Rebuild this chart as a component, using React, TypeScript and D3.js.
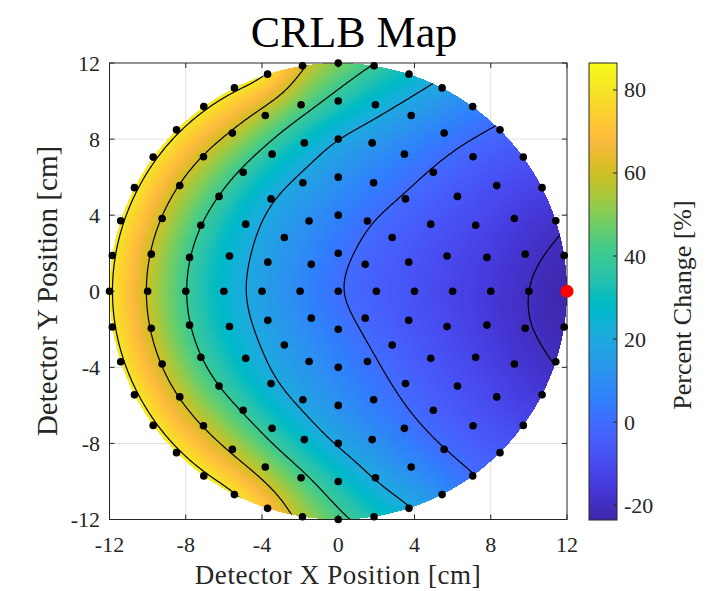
import React, { useMemo } from "react";
import * as d3 from "d3";

// ---------------- data ----------------
// Detector positions lie on concentric rings (cm); each ring's points are evenly spaced in angle,
// starting at +x and going counter-clockwise. Values are percent change.
const RING_RADII = [0, 2, 4, 6, 8, 10, 12];
const RING_0 = [0];
const RING_2 = [-4.1, -2.3, 2.0, 6.8, 8.0, 7.4, 3.4, -1.9];
const RING_4 = [-8.1, -6.8, -3.6, 0.4, 6.1, 11.0, 14.0, 15.4, 15.6, 15.8, 14.8, 11.9, 7.2, 1.5, -3.3, -6.7];
const RING_6 = [-12.2, -10.5, -6.5, -0.9, 5.2, 11.7, 16.7, 19.9, 23.2, 25.4, 25.7, 26.0, 24.7, 21.0, 16.6, 11.0, 4.0, -2.1, -6.9, -10.8];
const RING_8 = [-16.2, -14.7, -11.2, -6.5, -1.0, 5.8, 13.0, 18.8, 27.2, 33.7, 37.5, 39.5, 39.6, 39.7, 39.6, 39.7, 39.6, 39.5, 39.0, 34.5, 27.0, 17.9, 10.9, 2.7, -3.5, -8.0, -12.4, -15.4];
const RING_10 = [-20.2, -18.5, -14.8, -9.6, -3.5, 4.4, 14.2, 24.3, 35.7, 45.7, 53.9, 58.3, 58.7, 58.8, 58.8, 58.7, 58.6, 58.7, 58.8, 58.8, 58.8, 57.2, 52.1, 43.3, 31.8, 18.5, 9.3, -0.3, -6.2, -11.8, -16.6, -19.7];
const RING_12 = [-23.6, -21.6, -18.7, -13.0, -7.3, -1.6, 7.1, 16.8, 27.8, 39.2, 49.7, 60.0, 81.0, 82.0, 82.0, 82.0, 82.0, 82.0, 81.8, 81.6, 81.5, 81.6, 81.8, 82.0, 82.0, 82.0, 82.0, 81.5, 71.1, 54.4, 43.5, 32.1, 20.4, 10.1, -0.1, -5.5, -11.0, -16.5, -20.5, -22.1];
const RING_VALUES = [RING_0, RING_2, RING_4, RING_6, RING_8, RING_10, RING_12];

const REFERENCE_POINT = [12, 0];
const CONTOUR_LEVELS = [-20, 0, 20, 40, 60, 80];
const X_TICKS = [-12, -8, -4, 0, 4, 8, 12];
const Y_TICKS = [-12, -8, -4, 0, 4, 8, 12];
const COLORBAR_TICKS = [-20, 0, 20, 40, 60, 80];
const COLOR_LIMITS = [-23.6, 86.5];

const TITLE = "CRLB Map";
const X_LABEL = "Detector X Position [cm]";
const Y_LABEL = "Detector Y Position [cm]";
const C_LABEL = "Percent Change [%]";

// parula colormap (64 entries)
const PARULA = [
  [0.2422, 0.1504, 0.6603], [0.2504, 0.165, 0.7076], [0.2578, 0.1818, 0.7511], [0.2647, 0.1978, 0.7952],
  [0.2706, 0.2147, 0.8364], [0.2751, 0.2342, 0.871], [0.2783, 0.2559, 0.8991], [0.2803, 0.2782, 0.9221],
  [0.2813, 0.3006, 0.9414], [0.281, 0.3228, 0.9579], [0.2795, 0.3447, 0.9717], [0.276, 0.3667, 0.9829],
  [0.2699, 0.3892, 0.9906], [0.2602, 0.4123, 0.9952], [0.244, 0.4358, 0.9988], [0.2206, 0.4603, 0.9973],
  [0.1963, 0.4847, 0.9892], [0.1834, 0.5074, 0.9798], [0.1786, 0.5289, 0.9682], [0.1764, 0.5499, 0.952],
  [0.1687, 0.5703, 0.9359], [0.154, 0.5902, 0.9218], [0.146, 0.6091, 0.9079], [0.138, 0.6276, 0.8973],
  [0.1248, 0.6459, 0.8883], [0.1113, 0.6635, 0.8763], [0.0952, 0.6798, 0.8598], [0.0689, 0.6948, 0.8394],
  [0.0297, 0.7082, 0.8163], [0.0036, 0.7203, 0.7917], [0.0067, 0.7312, 0.766], [0.0433, 0.7411, 0.7394],
  [0.0964, 0.75, 0.712], [0.1408, 0.7584, 0.6842], [0.1717, 0.767, 0.6554], [0.1938, 0.7758, 0.6251],
  [0.2161, 0.7843, 0.5923], [0.247, 0.7918, 0.5567], [0.2906, 0.7973, 0.5188], [0.3406, 0.8008, 0.4789],
  [0.3909, 0.8029, 0.4354], [0.4456, 0.8024, 0.3909], [0.5044, 0.7993, 0.348], [0.5616, 0.7942, 0.3045],
  [0.6174, 0.7876, 0.2612], [0.672, 0.7793, 0.2227], [0.7242, 0.7698, 0.191], [0.7738, 0.7598, 0.1646],
  [0.8203, 0.7498, 0.1535], [0.8634, 0.7406, 0.1596], [0.9035, 0.733, 0.1774], [0.9393, 0.7288, 0.21],
  [0.9728, 0.7298, 0.2394], [0.9956, 0.7434, 0.2371], [0.997, 0.7659, 0.2199], [0.9952, 0.7893, 0.2028],
  [0.9892, 0.8136, 0.1885], [0.9786, 0.8386, 0.1766], [0.9676, 0.8639, 0.1643], [0.961, 0.889, 0.1537],
  [0.9597, 0.9135, 0.1423], [0.9628, 0.9373, 0.1265], [0.9691, 0.9606, 0.1064], [0.9769, 0.9839, 0.0805],
];

// ---------------- layout ----------------
const W = 716;
const H = 591;
const PLOT = { left: 109.5, right: 567, top: 63, bottom: 519.5 };
const CBAR = { left: 589, right: 617, top: 63, bottom: 520 };
const SERIF = "'Liberation Serif', 'DejaVu Serif', serif";
const AXIS_COLOR = "#262626";

function parulaRGB(t: number): [number, number, number] {
  const tt = Math.max(0, Math.min(1, t)) * (PARULA.length - 1);
  const i = Math.min(PARULA.length - 2, Math.floor(tt));
  const f = tt - i;
  const a = PARULA[i], b = PARULA[i + 1];
  return [
    Math.round(255 * (a[0] + (b[0] - a[0]) * f)),
    Math.round(255 * (a[1] + (b[1] - a[1]) * f)),
    Math.round(255 * (a[2] + (b[2] - a[2]) * f)),
  ];
}

function catmull(p0: number, p1: number, p2: number, p3: number, f: number) {
  const m1 = (p2 - p0) / 2, m2 = (p3 - p1) / 2;
  const f2 = f * f, f3 = f2 * f;
  return (2 * f3 - 3 * f2 + 1) * p1 + (f3 - 2 * f2 + f) * m1 + (-2 * f3 + 3 * f2) * p2 + (f3 - f2) * m2;
}

function ringValue(i: number, phiDeg: number) {
  const vals = RING_VALUES[i];
  const n = vals.length;
  if (n === 1) return vals[0];
  const step = 360 / n;
  const a = ((phiDeg % 360) + 360) % 360;
  const k = Math.floor(a / step);
  const f = a / step - k;
  return catmull(vals[(k - 1 + n) % n], vals[k % n], vals[(k + 1) % n], vals[(k + 2) % n], f);
}

// interpolation of the ring data: along each ring, then across rings; linear extension outside
function field(x: number, y: number): number {
  const last = RING_RADII.length - 1;
  const R = RING_RADII[last];
  const r = Math.hypot(x, y);
  if (r > R) {
    const s = R / r;
    const vEdge = field(x * s, y * s);
    const vIn = field(x * s * 0.98, y * s * 0.98);
    return vEdge + ((vEdge - vIn) / (R * 0.02)) * (r - R);
  }
  const phi = (Math.atan2(y, x) * 180) / Math.PI;
  const spacing = RING_RADII[1] - RING_RADII[0];
  const t = Math.min(r / spacing, last);
  let i = Math.floor(t);
  if (i >= last) i = last - 1;
  const f = t - i;
  const p1 = ringValue(i, phi);
  const p2 = ringValue(i + 1, phi);
  const p0 = i === 0 ? ringValue(1, phi + 180) : ringValue(i - 1, phi);
  const p3 = i + 2 <= last ? ringValue(i + 2, phi) : 2 * p2 - p1;
  return catmull(p0, p1, p2, p3, f);
}

function gaussianBlur(vals: Float64Array, N: number, sigmaCells: number) {
  const rad = Math.ceil(sigmaCells * 3);
  const ker: number[] = [];
  let sum = 0;
  for (let k = -rad; k <= rad; k++) { const w = Math.exp(-(k * k) / (2 * sigmaCells * sigmaCells)); ker.push(w); sum += w; }
  for (let k = 0; k < ker.length; k++) ker[k] /= sum;
  const tmp = new Float64Array(N * N);
  const out = new Float64Array(N * N);
  for (let j = 0; j < N; j++)
    for (let i = 0; i < N; i++) {
      let s = 0;
      for (let k = -rad; k <= rad; k++) { const ii = Math.max(0, Math.min(N - 1, i + k)); s += ker[k + rad] * vals[j * N + ii]; }
      tmp[j * N + i] = s;
    }
  for (let j = 0; j < N; j++)
    for (let i = 0; i < N; i++) {
      let s = 0;
      for (let k = -rad; k <= rad; k++) { const jj = Math.max(0, Math.min(N - 1, j + k)); s += ker[k + rad] * tmp[jj * N + i]; }
      out[j * N + i] = s;
    }
  return out;
}

export default function App() {
  const R = RING_RADII[RING_RADII.length - 1];
  const x = d3.scaleLinear().domain([-12, 12]).range([PLOT.left, PLOT.right]);
  const y = d3.scaleLinear().domain([-12, 12]).range([PLOT.bottom, PLOT.top]);
  const c = d3.scaleLinear().domain(COLOR_LIMITS).range([CBAR.bottom, CBAR.top]);

  const points = useMemo(() => {
    const pts: [number, number][] = [];
    RING_RADII.forEach((rad, i) => {
      const n = RING_VALUES[i].length;
      for (let k = 0; k < n; k++) {
        const a = (k * 2 * Math.PI) / n;
        pts.push([rad * Math.cos(a), rad * Math.sin(a)]);
      }
    });
    return pts;
  }, []);

  const computed = useMemo(() => {
    const N = 291, G0 = -14.5, GS = 0.1;
    const raw = new Float64Array(N * N);
    for (let j = 0; j < N; j++) {
      const Y = -G0 - j * GS;
      for (let i = 0; i < N; i++) raw[j * N + i] = field(G0 + i * GS, Y);
    }
    const vals = gaussianBlur(raw, N, 8);
    const sample = (X: number, Y: number) => {
      const gi = (X - G0) / GS, gj = (-G0 - Y) / GS;
      const i0 = Math.max(0, Math.min(N - 2, Math.floor(gi)));
      const j0 = Math.max(0, Math.min(N - 2, Math.floor(gj)));
      const fx = gi - i0, fy = gj - j0;
      const a = vals[j0 * N + i0], b = vals[j0 * N + i0 + 1];
      const cc = vals[(j0 + 1) * N + i0], d = vals[(j0 + 1) * N + i0 + 1];
      return (a * (1 - fx) + b * fx) * (1 - fy) + (cc * (1 - fx) + d * fx) * fy;
    };

    const x0 = Math.floor(PLOT.left);
    const y0 = Math.floor(PLOT.top);
    const w = Math.ceil(PLOT.right) - x0;
    const h = Math.ceil(PLOT.bottom) - y0;
    const canvas = document.createElement("canvas");
    canvas.width = w;
    canvas.height = h;
    const ctx = canvas.getContext("2d")!;
    const img = ctx.createImageData(w, h);
    for (let py = 0; py < h; py++) {
      const dy = y.invert(y0 + py + 0.5);
      for (let px = 0; px < w; px++) {
        const dx = x.invert(x0 + px + 0.5);
        const r = Math.hypot(dx, dy);
        const k = (py * w + px) * 4;
        if (r > R) { img.data[k + 3] = 0; continue; }
        const v = sample(dx, dy);
        const [rr, gg, bb] = parulaRGB((v - COLOR_LIMITS[0]) / (COLOR_LIMITS[1] - COLOR_LIMITS[0]));
        img.data[k] = rr; img.data[k + 1] = gg; img.data[k + 2] = bb; img.data[k + 3] = 255;
      }
    }
    ctx.putImageData(img, 0, 0);

    const cs = d3.contours().size([N, N]).thresholds(CONTOUR_LEVELS)(Array.from(vals));
    const proj = d3.geoTransform({
      point(px: number, py: number) {
        (this as any).stream.point(x(G0 + (px - 0.5) * GS), y(-G0 - (py - 0.5) * GS));
      },
    });
    const path = d3.geoPath(proj);
    return {
      heat: { href: canvas.toDataURL(), x0, y0, w, h },
      paths: cs.map((g) => path(g as any) || ""),
    };
  }, []);

  const stops = PARULA.map((p, i) => ({
    off: i / (PARULA.length - 1),
    col: `rgb(${Math.round(p[0] * 255)},${Math.round(p[1] * 255)},${Math.round(p[2] * 255)})`,
  }));

  const tickLen = 5;

  return (
    <svg width={W} height={H} style={{ position: "absolute", left: 0, top: 0, background: "#fff" }} fontFamily={SERIF}>
      <defs>
        <clipPath id="disk">
          <ellipse cx={x(0)} cy={y(0)} rx={x(R) - x(0)} ry={y(-R) - y(0)} />
        </clipPath>
        <linearGradient id="cbar" x1="0" y1="1" x2="0" y2="0">
          {stops.map((s, i) => (
            <stop key={i} offset={s.off} stopColor={s.col} />
          ))}
        </linearGradient>
      </defs>
      <rect x={0} y={0} width={W} height={H} fill="#fff" />

      {/* grid */}
      <g stroke="#dfdfdf" strokeWidth={1}>
        {X_TICKS.slice(1, -1).map((t) => (
          <line key={"gx" + t} x1={x(t)} x2={x(t)} y1={PLOT.top} y2={PLOT.bottom} />
        ))}
        {Y_TICKS.slice(1, -1).map((t) => (
          <line key={"gy" + t} x1={PLOT.left} x2={PLOT.right} y1={y(t)} y2={y(t)} />
        ))}
      </g>

      {/* heatmap */}
      <image href={computed.heat.href} x={computed.heat.x0} y={computed.heat.y0} width={computed.heat.w} height={computed.heat.h} />

      {/* contours */}
      <g clipPath="url(#disk)" fill="none" stroke="#000" strokeWidth={1.2} strokeLinejoin="round">
        {computed.paths.map((d, i) => (
          <path key={i} d={d} />
        ))}
      </g>

      {/* axes box and ticks */}
      <g stroke={AXIS_COLOR} strokeWidth={1} fill="none">
        <rect x={PLOT.left} y={PLOT.top} width={PLOT.right - PLOT.left} height={PLOT.bottom - PLOT.top} />
        {X_TICKS.map((t) => (
          <g key={"tx" + t}>
            <line x1={x(t)} x2={x(t)} y1={PLOT.bottom} y2={PLOT.bottom - tickLen} />
            <line x1={x(t)} x2={x(t)} y1={PLOT.top} y2={PLOT.top + tickLen} />
          </g>
        ))}
        {Y_TICKS.map((t) => (
          <g key={"ty" + t}>
            <line x1={PLOT.left} x2={PLOT.left + tickLen} y1={y(t)} y2={y(t)} />
            <line x1={PLOT.right} x2={PLOT.right - tickLen} y1={y(t)} y2={y(t)} />
          </g>
        ))}
      </g>

      {/* detector points */}
      <g fill="#000">
        {points.map((p, i) => (
          <circle key={i} cx={x(p[0])} cy={y(p[1])} r={3.8} />
        ))}
      </g>
      <circle cx={x(REFERENCE_POINT[0])} cy={y(REFERENCE_POINT[1])} r={6.5} fill="#ff0000" />

      {/* tick labels */}
      <g fill={AXIS_COLOR} fontSize={22}>
        {X_TICKS.map((t) => (
          <text key={"lx" + t} x={x(t)} y={552} textAnchor="middle">{String(t)}</text>
        ))}
        {Y_TICKS.map((t) => (
          <text key={"ly" + t} x={100} y={y(t) + 7.5} textAnchor="end">{String(t)}</text>
        ))}
      </g>

      {/* labels */}
      <text x={354} y={47} textAnchor="middle" fontSize={44} fill="#000">{TITLE}</text>
      <text x={338} y={584} textAnchor="middle" fontSize={27} letterSpacing={0.6} fill={AXIS_COLOR}>{X_LABEL}</text>
      <text transform={`translate(57,${291}) rotate(-90)`} textAnchor="middle" fontSize={29} fill={AXIS_COLOR}>{Y_LABEL}</text>

      {/* colorbar */}
      <rect x={CBAR.left} y={CBAR.top} width={CBAR.right - CBAR.left} height={CBAR.bottom - CBAR.top} fill="url(#cbar)" stroke={AXIS_COLOR} strokeWidth={1} />
      <g stroke={AXIS_COLOR} strokeWidth={1}>
        {COLORBAR_TICKS.map((t) => (
          <line key={"ct" + t} x1={CBAR.right} x2={CBAR.right - 4} y1={c(t)} y2={c(t)} />
        ))}
      </g>
      <g fill={AXIS_COLOR} fontSize={22}>
        {COLORBAR_TICKS.map((t) => (
          <text key={"cl" + t} x={624} y={c(t) + 7.5} textAnchor="start">{String(t)}</text>
        ))}
      </g>
      <text transform={`translate(691,${305}) rotate(-90)`} textAnchor="middle" fontSize={26} fill={AXIS_COLOR}>{C_LABEL}</text>
    </svg>
  );
}
